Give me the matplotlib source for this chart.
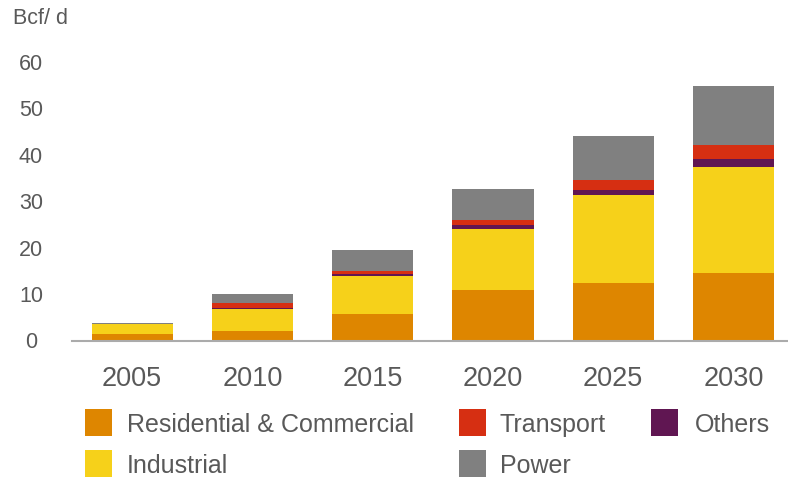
import numpy as np
import matplotlib.pyplot as plt
from matplotlib.patches import Rectangle

years = ['2005', '2010', '2015', '2020', '2025', '2030']

# Bcf/d by sector (bottom to top of the stack)
residential = [1.5, 2.1, 5.8, 10.8, 12.4, 14.5]
industrial = [2.0, 4.6, 8.0, 13.3, 18.85, 22.85]
others = [0.0, 0.3, 0.5, 0.7, 1.25, 1.65]
transport = [0.0, 1.1, 0.6, 1.1, 2.0, 3.2]
power = [0.2, 1.9, 4.6, 6.8, 9.5, 12.6]

yticks = [0, 10, 20, 30, 40, 50, 60]

c_res = '#de8600'
c_ind = '#f6d11a'
c_oth = '#601652'
c_tra = '#d62f12'
c_pwr = '#808080'
txt = '#595959'

plt.rcParams['font.family'] = ['Liberation Sans', 'DejaVu Sans']

W, H = 788, 480
fig = plt.figure(figsize=(W / 100, H / 100), dpi=100)

# axes placed in pixel terms: left 72, zero line at 340.5, 60 at 62
ax = fig.add_axes([72 / W, (H - 340.5) / H, (W - 72) / W, (340.5 - 62) / H])

x = np.arange(len(years))
series = [(residential, c_res), (industrial, c_ind), (others, c_oth),
          (transport, c_tra), (power, c_pwr)]
bottom = np.zeros(len(years))
for vals, col in series:
    ax.bar(x, vals, 0.675, bottom=bottom, color=col, linewidth=0)
    bottom += np.array(vals)

ax.set_xlim(-0.5, (W - 132) / 120.3)
ax.set_ylim(0, 60)
ax.set_xticks(x)
ax.set_xticklabels(years, fontsize=19.5, color=txt)
ax.set_yticks(yticks)
ax.set_yticklabels([str(v) for v in yticks], fontsize=15.5, color=txt, ha='center')
ax.tick_params(axis='y', length=0, pad=29.5)
ax.tick_params(axis='x', length=0, pad=18.5)

for s in ['top', 'right', 'left']:
    ax.spines[s].set_visible(False)
ax.spines['bottom'].set_color('#ababab')
ax.spines['bottom'].set_linewidth(1.5)

fig.text(13 / W, 1 - 19 / H, 'Bcf/ d', fontsize=15.5, color=txt, va='center', ha='left')

# legend drawn by hand to match the two-row layout
legend = [
    ('Residential & Commercial', c_res, 85, 409, 127),
    ('Industrial', c_ind, 85, 450, 127),
    ('Transport', c_tra, 459, 409, 500),
    ('Power', c_pwr, 459, 450, 500),
    ('Others', c_oth, 651, 409, 695),
]
for label, col, px, py, tx in legend:
    fig.add_artist(Rectangle((px / W, 1 - (py + 27) / H), 27 / W, 27 / H,
                             transform=fig.transFigure, color=col, lw=0))
    fig.text(tx / W, 1 - (py + 16) / H, label, fontsize=18, color=txt,
             va='center', ha='left')

fig.savefig('out.png', dpi=100)
